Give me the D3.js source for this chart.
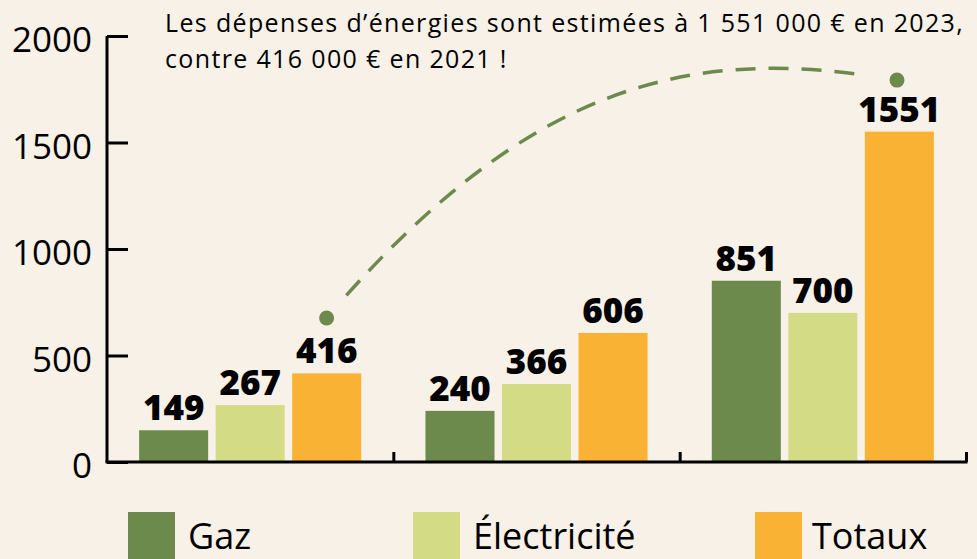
<!DOCTYPE html>
<html>
<head>
<meta charset="utf-8">
<script src="https://cdn.jsdelivr.net/npm/d3@7"></script>
<style>
  body { margin: 0; background: #f7f1e7; }
  svg { display: block; }
</style>
</head>
<body>
<div id="chart"></div>
<script>
// data
const years = ["2021", "2022", "2023"];
const series = ["Gaz", "Électricité", "Totaux"];
const gaz = [149, 240, 851];
const electricite = [267, 366, 700];
const totaux = [416, 606, 1551];
const yTicks = [0, 500, 1000, 1500, 2000];
const titleLines = [
    "Les dépenses d’énergies sont estimées à 1 551 000 € en 2023,",
    "contre 416 000 € en 2021 !"
];
// annotation arc: [position in category units, value]
const arcPoints = [[0.767, 676], [1.493, 1818], [2.071, 1953], [2.759, 1793]];

const colors = { "Gaz": "#6b8a4b", "Électricité": "#d3db85", "Totaux": "#f9b234" };

const width = 977, height = 559;
const margin = { top: 36, right: 11, bottom: 97, left: 107 };

const rows = years.map((yr, i) => ({
    year: yr,
    values: [
        { key: "Gaz", value: gaz[i] },
        { key: "Électricité", value: electricite[i] },
        { key: "Totaux", value: totaux[i] }
    ]
}));

const svg = d3.select("#chart")
    .append("svg")
    .attr("width", width)
    .attr("height", height)
    .attr("viewBox", [0, 0, width, height]);

svg.append("rect")
    .attr("width", width)
    .attr("height", height)
    .attr("fill", "#f7f1e7");

const x0 = d3.scaleBand()
    .domain(years)
    .range([margin.left, width - margin.right]);

const x1 = d3.scaleBand()
    .domain(series)
    .range([0, x0.bandwidth()])
    .paddingInner(0.098)
    .paddingOuter(0.42);

const xPos = d3.scaleLinear()
    .domain([0, years.length])
    .range([margin.left, width - margin.right]);

const y = d3.scaleLinear()
    .domain([0, 2000])
    .range([height - margin.bottom, margin.top]);

// bars
const groups = svg.append("g")
    .selectAll("g")
    .data(rows)
    .join("g")
    .attr("transform", d => `translate(${x0(d.year)},0)`);

groups.selectAll("rect")
    .data(d => d.values)
    .join("rect")
    .attr("x", d => x1(d.key))
    .attr("y", d => y(d.value))
    .attr("width", x1.bandwidth())
    .attr("height", d => y(0) - y(d.value))
    .attr("fill", d => colors[d.key]);

groups.selectAll("text")
    .data(d => d.values)
    .join("text")
    .attr("x", d => x1(d.key) + x1.bandwidth() / 2)
    .attr("y", d => y(d.value) - 10)
    .attr("text-anchor", "middle")
    .attr("font-family", "Open Sans, sans-serif")
    .attr("font-weight", 800)
    .attr("font-size", 35)
    .attr("fill", "#000")
    .text(d => d.value);

// y axis
const yAxis = g => g
    .attr("transform", `translate(${margin.left},0)`)
    .call(d3.axisRight(y).tickValues(yTicks).tickSize(21).tickFormat(""))
    .call(g => g.select(".domain").attr("d", `M0,${y(2000)}V${y(0)}`))
    .call(g => g.selectAll("line, path").attr("stroke", "#000").attr("stroke-width", 3));

svg.append("g").call(yAxis);

svg.append("g")
    .selectAll("text")
    .data(yTicks)
    .join("text")
    .attr("x", 92)
    .attr("y", d => y(d))
    .attr("dy", "0.46em")
    .attr("text-anchor", "end")
    .attr("font-family", "Open Sans, sans-serif")
    .attr("font-size", 35)
    .attr("fill", "#000")
    .text(d => d);

// x axis
const xAxis = g => g
    .attr("transform", `translate(0,${y(0)})`)
    .call(d3.axisTop(xPos).tickValues([1, 2, 3]).tickSize(10).tickFormat(""))
    .call(g => g.select(".domain").attr("d", `M${margin.left - 1.5},0H${xPos(3) + 1.5}`))
    .call(g => g.selectAll("line, path").attr("stroke", "#000").attr("stroke-width", 3));

svg.append("g").call(xAxis);

// annotation arc
const pts = arcPoints.map(p => [xPos(p[0]), y(p[1])]);
const arc = d3.path();
arc.moveTo(pts[0][0], pts[0][1]);
arc.bezierCurveTo(pts[1][0], pts[1][1], pts[2][0], pts[2][1], pts[3][0], pts[3][1]);

const arcPath = svg.append("path")
    .attr("d", arc.toString())
    .attr("fill", "none")
    .attr("stroke", "#6b8a4b")
    .attr("stroke-width", 3.5);

// dashed with a gap at each end
const len = arcPath.node().getTotalLength();
const gapEnd = 30, dash = 20, gap = 13;
const pattern = [0, gapEnd];
let pos = gapEnd;
while (pos + dash < len - gapEnd) {
    pattern.push(dash, gap);
    pos += dash + gap;
}
pattern.push(0, len);
arcPath.attr("stroke-dasharray", pattern.join(" "));

svg.append("g")
    .selectAll("circle")
    .data([pts[0], pts[3]])
    .join("circle")
    .attr("cx", d => d[0])
    .attr("cy", d => d[1])
    .attr("r", 7.5)
    .attr("fill", "#6b8a4b");

// title
svg.append("text")
    .attr("font-family", "Open Sans, sans-serif")
    .attr("font-size", 25)
    .attr("letter-spacing", 1.35)
    .attr("fill", "#000")
    .selectAll("tspan")
    .data(titleLines)
    .join("tspan")
    .attr("x", 165)
    .attr("y", (d, i) => 32 + i * 36)
    .text(d => d);

// legend
const legendX = [128, 413, 755];
const legend = svg.append("g")
    .selectAll("g")
    .data(series)
    .join("g")
    .attr("transform", (d, i) => `translate(${legendX[i]},512)`);

legend.append("rect")
    .attr("width", 47)
    .attr("height", 47)
    .attr("fill", d => colors[d]);

legend.append("text")
    .attr("x", (d, i) => i === 2 ? 57 : 60)
    .attr("y", 37)
    .attr("font-family", "Open Sans, sans-serif")
    .attr("font-size", 36)
    .attr("fill", "#000")
    .text(d => d);
</script>
</body>
</html>
